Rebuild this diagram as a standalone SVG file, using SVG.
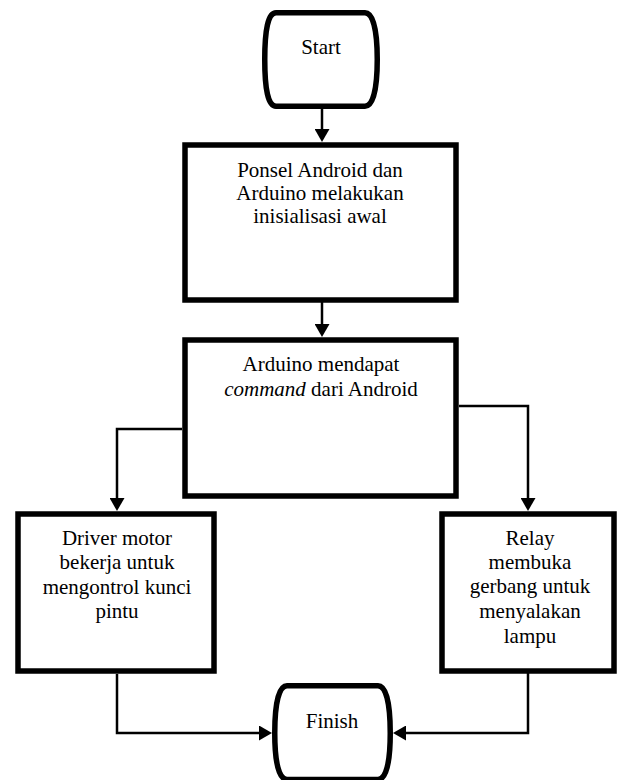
<svg xmlns="http://www.w3.org/2000/svg" width="620" height="780" viewBox="0 0 620 780">
<defs>
<marker id="arr" markerUnits="userSpaceOnUse" viewBox="0 0 13 15" markerWidth="13" markerHeight="15" refX="9" refY="7.5" orient="auto">
<path d="M0,0 L13,7.5 L0,15 Z" fill="#000"/>
</marker>
<style>
.box{fill:#fff;stroke:#000;stroke-width:5.5}
.term{fill:#fff;stroke:#000;stroke-width:5.5;stroke-linejoin:round}
.conn{fill:none;stroke:#000;stroke-width:2.5;marker-end:url(#arr)}
text{font-family:"Liberation Serif","Times New Roman",serif;font-size:21px;fill:#000;text-anchor:middle}
</style>
</defs>
<rect width="620" height="780" fill="#fff"/>
<g id="connectors">
<path class="conn" d="M322,106 V138"/>
<path class="conn" d="M322,302 V333"/>
<path class="conn" d="M182,429 H117 V507"/>
<path class="conn" d="M459,406 H528 V507"/>
<path class="conn" d="M117,674 V733 H268"/>
<path class="conn" d="M528,673 V733 H397"/>
</g>
<g id="start">
<path class="term" d="M276,12.75 H365 C373,12.75 377.25,30 377.25,59.5 C377.25,89 373,106.25 365,106.25 H276 C268,106.25 264.75,89 264.75,59.5 C264.75,30 268,12.75 276,12.75 Z"/>
<text x="321" y="54">Start</text>
</g>
<g id="init">
<rect class="box" x="185" y="145" width="271" height="155"/>
<text x="320" y="177">Ponsel Android dan</text>
<text x="320" y="200">Arduino melakukan</text>
<text x="320" y="223">inisialisasi awal</text>
</g>
<g id="command">
<rect class="box" x="185" y="340" width="271" height="156"/>
<text x="321" y="371">Arduino mendapat</text>
<text x="321" y="396"><tspan font-style="italic">command</tspan> dari Android</text>
</g>
<g id="driver">
<rect class="box" x="18" y="514" width="196" height="157"/>
<text x="117" y="545">Driver motor</text>
<text x="117" y="569">bekerja untuk</text>
<text x="117" y="594">mengontrol kunci</text>
<text x="117" y="618">pintu</text>
</g>
<g id="relay">
<rect class="box" x="442" y="514" width="172" height="157"/>
<text x="530" y="545">Relay</text>
<text x="530" y="569">membuka</text>
<text x="530" y="593">gerbang untuk</text>
<text x="530" y="618">menyalakan</text>
<text x="530" y="643">lampu</text>
</g>
<g id="finish">
<path class="term" d="M287,685.75 H378 C386,685.75 390.25,703 390.25,733 C390.25,763 386,779.5 378,779.5 H287 C279,779.5 274.75,763 274.75,733 C274.75,703 279,685.75 287,685.75 Z"/>
<text x="332" y="728">Finish</text>
</g>
</svg>
